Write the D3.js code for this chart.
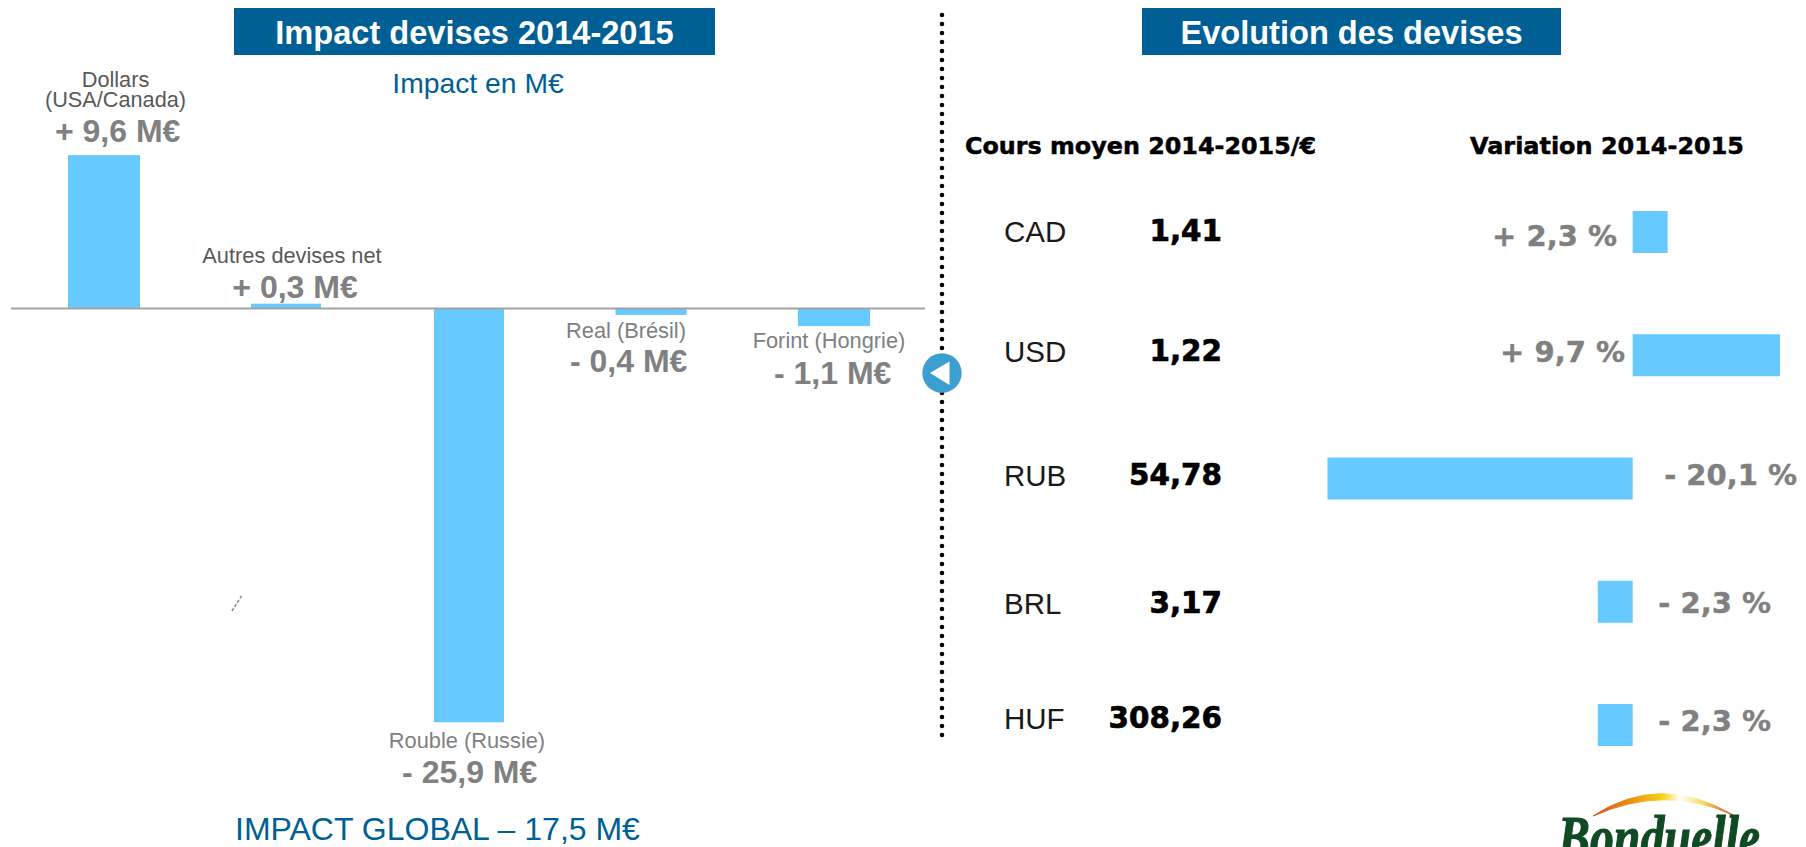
<!DOCTYPE html>
<html><head><meta charset="utf-8">
<script src="https://cdn.jsdelivr.net/npm/d3@7/dist/d3.min.js"></script>
<style>html,body{margin:0;padding:0;background:#fff;overflow:hidden}svg{display:block}text{font-family:"Liberation Sans",Arial,sans-serif}</style>
</head><body><svg id="c" width="1806" height="847"></svg>
<script>
// ---- data ----
const impactCategories = ["Dollars (USA/Canada)","Autres devises net","Rouble (Russie)","Real (Brésil)","Forint (Hongrie)"];
const impactValues = [9.6, 0.3, -25.9, -0.4, -1.1];
const impactTexts = ["+ 9,6 M€","+ 0,3 M€","- 25,9 M€","- 0,4 M€","- 1,1 M€"];
const currencies = ["CAD","USD","RUB","BRL","HUF"];
const rates = ["1,41","1,22","54,78","3,17","308,26"];
const variations = [2.3, 9.7, -20.1, 2.3, 2.3];
const variationSides = ["pos","pos","neg","neg","neg"];
const variationTexts = ["+ 2,3 %","+ 9,7 %","- 20,1 %","- 2,3 %","- 2,3 %"];

const svg = d3.select("#c");
const BLUE="#005f94", BAR="#66c9ff", GREY="#808080";
const T=(x,y,s,size,fill,opt={})=>svg.append("text").attr("x",x).attr("y",y).text(s)
  .attr("font-size",size).attr("fill",fill).attr("text-anchor",opt.a||"middle")
  .attr("font-weight",opt.w||"normal").style("font-family",opt.f||null)
  .attr("stroke",opt.s?fill:null).attr("stroke-width",opt.s||null)
  .attr("textLength",opt.len||null).attr("lengthAdjust",opt.len?"spacingAndGlyphs":null);

// headers
[[234,481,"Impact devises 2014-2015"],[1142,419,"Evolution des devises"]].forEach(([x,w,s])=>{
  svg.append("rect").attr("x",x).attr("y",8).attr("width",w).attr("height",47).attr("fill",BLUE);
  T(x+w/2,43.5,s,32.6,"#fff",{w:"bold"});
});
T(478,93,"Impact en M€",28.3,BLUE);

// left chart scales
const y = d3.scaleLinear().domain([0,-25.9]).range([308.5,722.3]);
const xCenter = d3.scaleOrdinal().domain(impactCategories).range([104,286,469,651,834]);
const barW = d3.scaleOrdinal().domain(impactCategories).range([72,70,70,71,72]);
svg.append("g").selectAll("rect").data(impactCategories).join("rect")
  .attr("x",d=>xCenter(d)-barW(d)/2).attr("width",d=>barW(d))
  .attr("y",(d,i)=>Math.min(y(impactValues[i]),y(0)))
  .attr("height",(d,i)=>Math.abs(y(impactValues[i])-y(0)))
  .attr("fill",BAR);
svg.append("line").attr("x1",11).attr("x2",925).attr("y1",y(0)).attr("y2",y(0)).attr("stroke","#a3a3a3").attr("stroke-width",2);

// left labels
T(115.5,87,"Dollars",21.7,"#595959");
T(115.5,107,"(USA/Canada)",21.7,"#595959");
T(292,263,"Autres devises net",21.8,"#595959");
T(626,338,"Real (Brésil)",21.8,GREY);
T(829,348,"Forint (Hongrie)",21.8,GREY);
T(467,748,"Rouble (Russie)",21.8,GREY);
const valuePos=[[117.7,141.7],[295,298],[469.7,782.7],[628.7,371.7],[832.7,384]];
impactTexts.forEach((s,i)=>T(valuePos[i][0],valuePos[i][1],s,32,GREY,{w:"bold"}));
T(235,840,"IMPACT GLOBAL – 17,5 M€",32,BLUE,{a:"start"});

// small stray mark
svg.append("line").attr("x1",232).attr("y1",611).attr("x2",241.5).attr("y2",596).attr("stroke","#888").attr("stroke-width",1.5).attr("stroke-dasharray","3 2");

// divider
svg.append("line").attr("x1",942).attr("x2",942).attr("y1",15).attr("y2",741).attr("stroke","#000").attr("stroke-width",4.6).attr("stroke-linecap","round").attr("stroke-dasharray","0 9");
svg.append("circle").attr("cx",942).attr("cy",373).attr("r",19.7).attr("fill","#3d9fd1");
svg.append("path").attr("d",d3.line()([[930,373],[949.5,361.5],[949.5,385]])+"Z").attr("fill","#fff");

// right table
const HF='"DejaVu Sans",sans-serif';
T(965,154,"Cours moyen 2014-2015/€",23.5,"#000",{a:"start",w:"bold",f:HF,len:351,s:.5});
T(1470,154,"Variation 2014-2015",23.5,"#000",{a:"start",w:"bold",f:HF,len:274,s:.5});
const row = d3.scalePoint().domain(currencies).range([232,725]);
const x2 = d3.scaleLinear().domain([0,9.7]).range([1632.7,1780]);
const signed=(d,i)=>variationSides[i]==="pos"?variations[i]:-Math.abs(variations[i]);
svg.append("g").selectAll("rect").data(currencies).join("rect")
  .attr("x",(d,i)=>Math.min(x2(signed(d,i)),x2(0)))
  .attr("width",(d,i)=>Math.abs(x2(signed(d,i))-x2(0)))
  .attr("y",d=>row(d)-21).attr("height",42).attr("fill",BAR);
const codeY=[242,362,486,614,729], rateY=[241,361,485,613,728], varY=[246,362,485,613,731];
const varX=[1617,1625,1797,1771,1771];
currencies.forEach((c,i)=>{
  T(1004,codeY[i],c,29.5,"#1a1a1a",{a:"start"});
  T(1222,rateY[i],rates[i],29.4,"#000",{a:"end",w:"bold",f:HF,s:.7});
  T(varX[i],varY[i],variationTexts[i],29,GREY,{a:"end",w:"bold",f:HF,s:.4});
});

// logo
const defs=svg.append("defs");
const g=defs.append("linearGradient").attr("id","arc").attr("gradientUnits","userSpaceOnUse").attr("x1",1593).attr("x2",1733).attr("y1",0).attr("y2",0);
[[0,"#c8501e"],[.25,"#ee8a14"],[.5,"#f8d214"],[.62,"#ffffff"],[.78,"#f8dc60"],[1,"#c8501e"]].forEach(([o,c])=>g.append("stop").attr("offset",o).attr("stop-color",c));
svg.append("path").attr("d","M1593,816 Q1660,772 1733,815 Q1665,784 1593,816Z").attr("fill","url(#arc)").attr("stroke","url(#arc)").attr("stroke-width",1);
T(1659,858,"Bonduelle",62,"#0f4a24",{w:"bold",f:'"Liberation Serif",serif',len:202,s:1.2}).style("font-style","italic");
</script></body></html>
